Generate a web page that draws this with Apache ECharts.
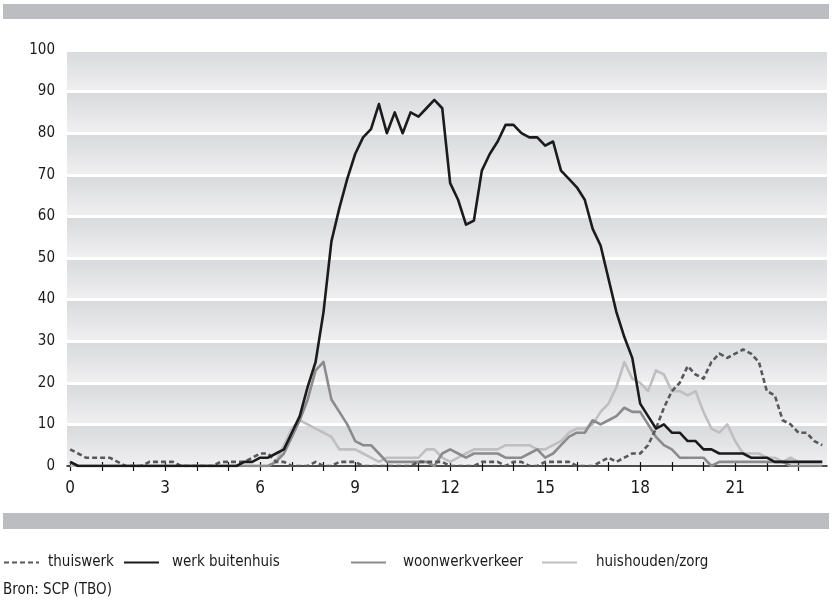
<!DOCTYPE html>
<html>
<head>
<meta charset="utf-8">
<script src="https://cdn.jsdelivr.net/npm/echarts@6/dist/echarts.min.js"></script>
<style>
  html, body { margin: 0; padding: 0; background: #fff; }
  #chart { width: 833px; height: 601px; }
</style>
</head>
<body>
<div id="chart"></div>
<script>
// kwartierwaarden (0:00 .. 23:45), percentage van de groep
const thuiswerk = [
  4, 3, 2, 2,   2, 2, 1, 0,   0, 0, 1, 1,   1, 1, 0, 0,
  0, 0, 0, 1,   1, 1, 1, 2,   3, 3, 1, 1,   0, 0, 0, 1,
  0, 0, 1, 1,   1, 0, 0, 0,   0, 0, 0, 0,   1, 1, 1, 1,
  0, 0, 0, 0,   1, 1, 1, 0,   1, 1, 0, 0,   1, 1, 1, 1,
  0, 0, 0, 1,   2, 1, 2, 3,   3, 5, 9, 14,  18, 20, 24, 22,
  21, 25, 27, 26, 27, 28, 27, 25, 18, 17, 11, 10, 8, 8, 6, 5
];
const werkBuitenhuis = [
  1, 0, 0, 0,   0, 0, 0, 0,   0, 0, 0, 0,   0, 0, 0, 0,
  0, 0, 0, 0,   0, 0, 1, 1,   2, 2, 3, 4,   8, 12, 19, 25,
  37, 54, 62, 69, 75, 79, 81, 87, 80, 85, 80, 85, 84, 86, 88, 86,
  68, 64, 58, 59, 71, 75, 78, 82, 82, 80, 79, 79, 77, 78, 71, 69,
  67, 64, 57, 53, 45, 37, 31, 26, 15, 12, 9, 10, 8, 8, 6, 6,
  4, 4, 3, 3,   3, 3, 2, 2,   2, 1, 1, 1,   1, 1, 1, 1
];
const woonwerkverkeer = [
  1, 0, 0, 0,   0, 0, 0, 0,   0, 0, 0, 0,   0, 0, 0, 0,
  0, 0, 0, 0,   0, 0, 0, 0,   0, 0, 1, 3,   7, 11, 16, 23,
  25, 16, 13, 10, 6, 5, 5, 3,  1, 1, 1, 1,   1, 1, 0, 3,
  4, 3, 2, 3,   3, 3, 3, 2,   2, 2, 3, 4,   2, 3, 5, 7,
  8, 8, 11, 10, 11, 12, 14, 13, 13, 10, 7, 5, 4, 2, 2, 2,
  2, 0, 1, 1,   1, 1, 1, 1,   1, 1, 1, 0,   0, 0, 0, 0
];
const huishoudenZorg = [
  0, 0, 0, 0,   0, 0, 0, 0,   0, 0, 0, 0,   0, 0, 0, 0,
  0, 0, 0, 0,   0, 0, 0, 0,   0, 0, 1, 5,   9, 11, 10, 9,
  8, 7, 4, 4,   4, 3, 2, 1,   2, 2, 2, 2,   2, 4, 4, 2,
  1, 2, 3, 4,   4, 4, 4, 5,   5, 5, 5, 4,   4, 5, 6, 8,
  9, 9, 10, 13, 15, 19, 25, 21, 20, 18, 23, 22, 18, 18, 17, 18,
  13, 9, 8, 10, 6, 3, 3, 3,   2, 2, 1, 2,   1, 1, 1, 1
];

const seriesNames = ["thuiswerk", "werk buitenhuis", "woonwerkverkeer", "huishouden/zorg"];
const hourTicks = [0, 1, 2, 3, 4, 5, 6, 7, 8, 9, 10, 11, 12, 13, 14, 15, 16, 17, 18, 19, 20, 21, 22, 23];
const hourLabels = [0, 3, 6, 9, 12, 15, 18, 21];
const bronText = "Bron: SCP (TBO)";

const FONT = '"Liberation Sans Narrow", "DejaVu Sans Condensed", "Noto Sans", sans-serif';
const TEXT_COLOR = "#1a1a1a";

const hours = thuiswerk.map((_, i) => i * 0.25);
const toPoints = (values) => values.map((v, i) => [hours[i], v]);

const chart = echarts.init(document.getElementById("chart"), null, { renderer: "canvas" });

const bandGradient = new echarts.graphic.LinearGradient(0, 0, 0, 1, [
  { offset: 0, color: "#d8d9dc" },
  { offset: 1, color: "#f0f0f1" }
]);

const buildLine = (name, values, color, width, dashed) => ({
  name,
  type: "line",
  data: toPoints(values),
  symbol: "none",
  smooth: false,
  animation: false,
  lineStyle: {
    color,
    width,
    type: dashed ? [5, 3] : "solid",
    join: "round"
  },
  itemStyle: { color },
  emphasis: { disabled: true }
});

const legendLefts = [3, 123, 350, 541];
const legendTextGap = [4, 8, 12, 14];

chart.setOption({
  backgroundColor: "#ffffff",
  animation: false,
  textStyle: { fontFamily: FONT },
  grid: {
    left: 67,
    right: 6,
    top: 50,
    bottom: 135,
    containLabel: false
  },
  title: {
    text: bronText,
    left: 3,
    top: 583,
    padding: 0,
    textStyle: {
      fontFamily: FONT,
      fontSize: 15,
      fontWeight: "normal",
      color: TEXT_COLOR
    }
  },
  legend: seriesNames.map((name, i) => ({
    data: [name],
    left: legendLefts[i],
    top: 555,
    padding: 0,
    itemWidth: 35,
    itemHeight: 14,
    selectedMode: false,
    itemStyle: { opacity: 0, borderWidth: 0 },
    textStyle: {
      fontFamily: FONT,
      fontSize: 15,
      color: TEXT_COLOR,
      padding: [0, 0, 0, legendTextGap[i]]
    }
  })),
  graphic: [
    {
      type: "rect",
      shape: { x: 3, y: 4, width: 826, height: 15 },
      style: { fill: "#bcbdc0" },
      silent: true
    },
    {
      type: "rect",
      shape: { x: 3, y: 513, width: 826, height: 16 },
      style: { fill: "#bcbdc0" },
      silent: true
    }
  ],
  xAxis: [
    {
      type: "value",
      min: -0.1,
      max: 23.9,
      position: "bottom",
      axisLine: { show: true, onZero: false, lineStyle: { color: "#111", width: 1.5 } },
      axisTick: {
        show: true,
        customValues: hourTicks,
        length: 5,
        lineStyle: { color: "#111", width: 1.2 }
      },
      axisLabel: {
        customValues: hourLabels,
        color: TEXT_COLOR,
        fontFamily: FONT,
        fontSize: 17,
        margin: 14
      },
      splitLine: { show: false }
    },
    {
      type: "value",
      min: -0.1,
      max: 23.9,
      position: "bottom",
      axisLine: { show: false, onZero: false },
      axisTick: {
        show: true,
        inside: true,
        customValues: hourTicks,
        length: 4,
        lineStyle: { color: "#111", width: 1.2 }
      },
      axisLabel: { show: false },
      splitLine: { show: false }
    }
  ],
  yAxis: {
    type: "value",
    min: 0,
    max: 100,
    interval: 10,
    axisLine: { show: false },
    axisTick: { show: false },
    axisLabel: {
      color: TEXT_COLOR,
      fontFamily: FONT,
      fontSize: 15,
      margin: 12
    },
    splitLine: {
      show: true,
      lineStyle: { color: "#ffffff", width: 3 }
    },
    splitArea: {
      show: true,
      areaStyle: { color: [bandGradient] }
    }
  },
  series: [
    buildLine(seriesNames[3], huishoudenZorg, "#bfbfc1", 2.6, false),
    buildLine(seriesNames[2], woonwerkverkeer, "#8b8b8d", 2.6, false),
    buildLine(seriesNames[0], thuiswerk, "#58585b", 2.6, true),
    buildLine(seriesNames[1], werkBuitenhuis, "#1b1b1b", 2.6, false)
  ]
});
</script>
</body>
</html>
